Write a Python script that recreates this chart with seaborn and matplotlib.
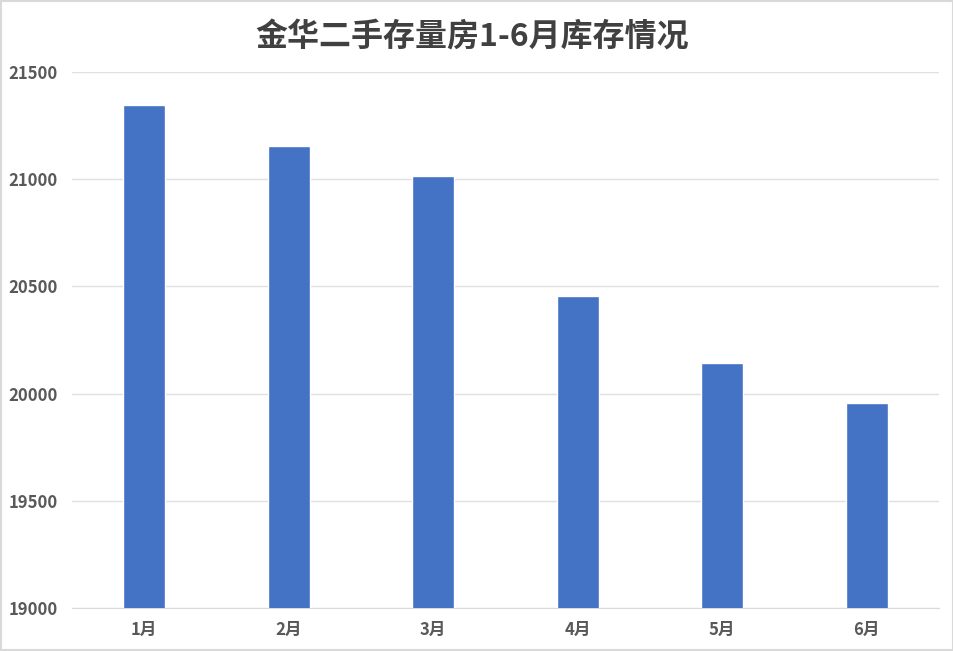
import seaborn as sns
import matplotlib.pyplot as plt
import pandas as pd
from matplotlib.patches import Rectangle

MONTHS = ["1月", "2月", "3月", "4月", "5月", "6月"]
STOCK = [21345, 21153, 21013, 20453, 20145, 19958]
Y_TICKS = [19000, 19500, 20000, 20500, 21000, 21500]

BAR_COLOR = "#4472C4"
TEXT_COLOR = "#595959"
TITLE_COLOR = "#404040"
GRID_COLOR = "#E0E0E0"

sns.set_style("white")
plt.rcParams["font.family"] = ["Noto Sans CJK SC", "DejaVu Sans"]

df = pd.DataFrame({"month": MONTHS, "stock": STOCK})

fig = plt.figure(figsize=(9.54, 6.51), dpi=100)
ax = fig.add_axes([72 / 954, 1 - 608 / 651, 867 / 954, 536 / 651])

sns.barplot(data=df, x="month", y="stock", ax=ax, color=BAR_COLOR,
            saturation=1, width=0.29, zorder=3)

ax.set_ylim(19000, 21500)
ax.set_yticks(Y_TICKS)
ax.set_xlim(-0.5, len(MONTHS) - 0.5)
ax.yaxis.grid(True, color=GRID_COLOR, linewidth=1, zorder=0)
ax.set_axisbelow(True)
for side in ["top", "right", "left"]:
    ax.spines[side].set_visible(False)
ax.spines["bottom"].set_color("#D9D9D9")
ax.tick_params(axis="both", length=0, labelsize=12, labelcolor=TEXT_COLOR)
ax.tick_params(axis="y", pad=10)
ax.tick_params(axis="x", pad=9)
for lbl in ax.get_xticklabels() + ax.get_yticklabels():
    lbl.set_fontweight("bold")
ax.set_xlabel("")
ax.set_ylabel("")

fig.text(472 / 954, 1 - 37 / 651, "金华二手存量房1-6月库存情况", ha="center", va="center",
         fontsize=23, fontweight="heavy", color=TITLE_COLOR)

fig.patches.append(Rectangle((0.001, 0.001), 0.998, 0.998, transform=fig.transFigure,
                             fill=False, edgecolor="#D9D9D9", linewidth=1.5))

fig.savefig("out.png", dpi=100)
